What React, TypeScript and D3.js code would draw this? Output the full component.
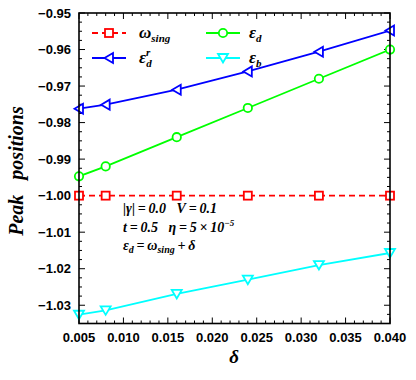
import React from "react";
import * as d3 from "d3";

const deltas = [0.005, 0.008, 0.016, 0.024, 0.032, 0.04];
const omegaSing = [-1.0, -1.0, -1.0, -1.0, -1.0, -1.0];
const epsDr = [-0.9762, -0.9751, -0.971, -0.966, -0.9606, -0.9548];
const epsD = [-0.9947, -0.992, -0.984, -0.976, -0.968, -0.96];
const epsB = [-1.0326, -1.0314, -1.0269, -1.023, -1.019, -1.0157];
const xTicks = [0.005, 0.01, 0.015, 0.02, 0.025, 0.03, 0.035, 0.04];
const yTicks = [-0.95, -0.96, -0.97, -0.98, -0.99, -1.0, -1.01, -1.02, -1.03];

const W = 416, H = 380;
const L = 79, R = 390, T = 13, B = 323.5;

export default function App() {
  const x = d3.scaleLinear().domain([0.005, 0.04]).range([L, R]);
  const y = d3.scaleLinear().domain([-1.035, -0.95]).range([B, T]);
  const line = (vals: number[]) =>
    d3.line<number>().x((_, i) => x(deltas[i])).y((v) => y(v))(vals) || "";

  const xMinor = d3.range(0, 36).map((i) => 0.005 + i * 0.001);
  const yMinor = d3.range(0, 35).map((i) => -1.035 + i * 0.0025);
  const isMajX = (v: number) => xTicks.some((t) => Math.abs(t - v) < 1e-9);
  const isMajY = (v: number) => yTicks.some((t) => Math.abs(t - v) < 1e-9);

  const tickFont = { fontFamily: "Liberation Sans, Arial, sans-serif", fontWeight: 700, fontSize: 13 } as const;
  const serif = { fontFamily: "Liberation Serif, Times New Roman, serif", fontWeight: 700, fontStyle: "italic" } as const;

  const sq = (cx: number, cy: number, k: number, c: string) => (
    <rect key={k} x={cx - 4} y={cy - 4} width={8} height={8} fill="white" stroke={c} strokeWidth={1.8} />
  );
  const triL = (cx: number, cy: number, k: number, c: string) => (
    <path key={k} d={`M${cx - 4.5},${cy} L${cx + 4},${cy - 5} L${cx + 4},${cy + 5} Z`} fill="white" stroke={c} strokeWidth={1.8} />
  );
  const circ = (cx: number, cy: number, k: number, c: string) => (
    <circle key={k} cx={cx} cy={cy} r={4.2} fill="white" stroke={c} strokeWidth={1.8} />
  );
  const triD = (cx: number, cy: number, k: number, c: string) => (
    <path key={k} d={`M${cx - 5},${cy - 4} L${cx + 5},${cy - 4} L${cx},${cy + 4.5} Z`} fill="white" stroke={c} strokeWidth={1.8} />
  );

  const series = [
    { vals: omegaSing, color: "#ff0000", dash: "6,4", marker: sq },
    { vals: epsDr, color: "#0000ff", dash: undefined, marker: triL },
    { vals: epsD, color: "#00ff00", dash: undefined, marker: circ },
    { vals: epsB, color: "#00ffff", dash: undefined, marker: triD },
  ];
  const s = "\u2009";

  return (
    <svg width={W} height={H} style={{ position: "absolute", left: 0, top: 0 }}>
      <rect x={0} y={0} width={W} height={H} fill="white" />
      <defs>
        <clipPath id="pc">
          <rect x={L} y={T} width={R - L} height={B - T} />
        </clipPath>
      </defs>
      {xMinor.map((v, i) => {
        const len = isMajX(v) ? 6 : 3;
        return (
          <g key={"xt" + i} stroke="black" strokeWidth={1}>
            <line x1={x(v)} x2={x(v)} y1={B} y2={B - len} />
            <line x1={x(v)} x2={x(v)} y1={T} y2={T + len} />
          </g>
        );
      })}
      {yMinor.map((v, i) => {
        const len = isMajY(v) ? 6 : 3;
        return (
          <g key={"yt" + i} stroke="black" strokeWidth={1}>
            <line x1={L} x2={L + len} y1={y(v)} y2={y(v)} />
            <line x1={R} x2={R - len} y1={y(v)} y2={y(v)} />
          </g>
        );
      })}
      <g clipPath="url(#pc)">
        {series.map((sr, si) => (
          <path key={"l" + si} d={line(sr.vals)} fill="none" stroke={sr.color} strokeWidth={1.8} strokeDasharray={sr.dash} />
        ))}
      </g>
      {series.map((sr, si) => (
        <g key={"m" + si}>{sr.vals.map((v, i) => sr.marker(x(deltas[i]), y(v), i, sr.color))}</g>
      ))}
      <rect x={L} y={T} width={R - L} height={B - T} fill="none" stroke="black" strokeWidth={1.6} />
      {yTicks.map((v, i) => (
        <text key={"yl" + i} x={71} y={y(v) + 4.5} textAnchor="end" style={tickFont}>
          {d3.format(".2f")(v).replace("-", "\u2212")}
        </text>
      ))}
      {xTicks.map((v, i) => (
        <text key={"xl" + i} x={x(v)} y={342} textAnchor="middle" style={tickFont}>
          {d3.format(".3f")(v)}
        </text>
      ))}
      <text x={234} y={363} textAnchor="middle" style={{ ...serif, fontSize: 19 }}>δ</text>
      <text transform="translate(23,171) rotate(-90)" textAnchor="middle" style={{ ...serif, fontSize: 20 }} xmlSpace="preserve">
        Peak   positions
      </text>
      <g>
        <line x1={92} x2={126} y1={33} y2={33} stroke="#ff0000" strokeWidth={1.8} strokeDasharray="6,4" />
        {sq(109, 33, 0, "#ff0000")}
        <text x={139} y={38} style={{ ...serif, fontSize: 17 }}>
          ω<tspan fontSize={11} dy={4}>sing</tspan>
        </text>
        <line x1={92} x2={126} y1={58} y2={58} stroke="#0000ff" strokeWidth={1.8} />
        {triL(109, 58, 0, "#0000ff")}
        <text x={139} y={63} style={{ ...serif, fontSize: 17 }}>
          ε<tspan fontSize={11} dy={-7}>r</tspan>
          <tspan fontSize={11} dx={-4} dy={11}>d</tspan>
        </text>
        <line x1={206} x2={240} y1={33} y2={33} stroke="#00ff00" strokeWidth={1.8} />
        {circ(223, 33, 0, "#00ff00")}
        <text x={249} y={38} style={{ ...serif, fontSize: 17 }}>
          ε<tspan fontSize={11} dy={4}>d</tspan>
        </text>
        <line x1={206} x2={240} y1={58} y2={58} stroke="#00ffff" strokeWidth={1.8} />
        {triD(223, 58, 0, "#00ffff")}
        <text x={249} y={63} style={{ ...serif, fontSize: 17 }}>
          ε<tspan fontSize={11} dy={4}>b</tspan>
        </text>
      </g>
      <g style={{ ...serif, fontSize: 14 }}>
        <text x={123} y={213} xmlSpace="preserve">{`|γ|${s}=${s}0.0   V${s}=${s}0.1`}</text>
        <text x={123} y={232} xmlSpace="preserve">
          {`t${s}=${s}0.5   η${s}=${s}5${s}×${s}10`}<tspan fontSize={9} dy={-6}>−5</tspan>
        </text>
        <text x={123} y={250}>
          ε<tspan fontSize={10} dy={3}>d</tspan>
          <tspan dy={-3}>{`${s}=${s}ω`}</tspan>
          <tspan fontSize={10} dy={3}>sing</tspan>
          <tspan dy={-3}>{`${s}+${s}δ`}</tspan>
        </text>
      </g>
    </svg>
  );
}
